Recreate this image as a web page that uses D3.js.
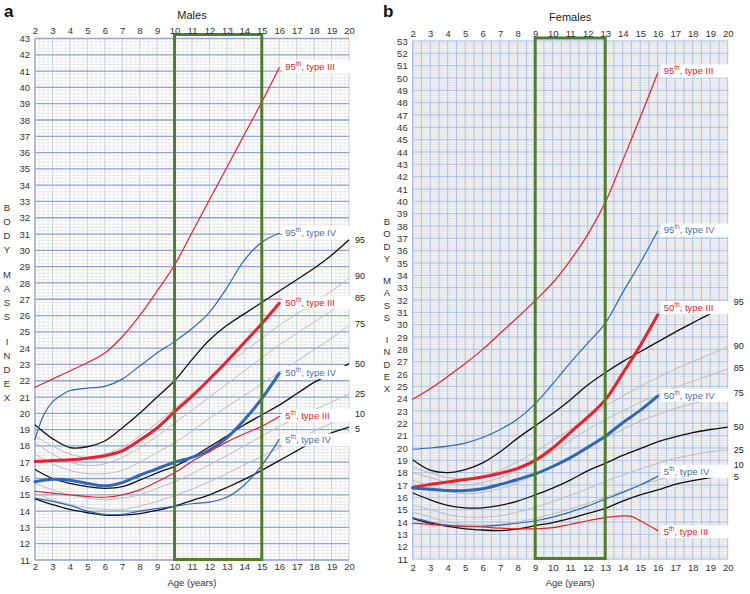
<!DOCTYPE html>
<html><head><meta charset="utf-8">
<script src="https://cdn.jsdelivr.net/npm/d3@7"></script>
<style>
body{margin:0;background:#fff}
svg{display:block}
text{font-family:"Liberation Sans",Arial,Helvetica,sans-serif}
</style>
</head><body>
<svg id="c" width="750" height="594"></svg>
<script>
// ---------- DATA ----------
const ages = [2,3,4,5,6,7,8,9,10,11,12,13,14,15,16,17,18,19,20];
const ages16 = [2,3,4,5,6,7,8,9,10,11,12,13,14,15,16];
const xTicks = [2,3,4,5,6,7,8,9,10,11,12,13,14,15,16,17,18,19,20];
const pctNames = ["95","90","85","75","50","25","10","5"];

// Males – reference percentiles
const m5  = [14.75,14.4,14.1,13.9,13.75,13.75,13.85,14.05,14.3,14.65,15.0,15.45,15.95,16.5,17.1,17.7,18.3,18.8,19.15];
const m10 = [15.1,14.7,14.4,14.2,14.1,14.1,14.3,14.6,14.95,15.35,15.8,16.3,16.85,17.35,17.9,18.4,18.9,19.4,19.85];
const m25 = [15.7,15.3,15.0,14.8,14.7,14.8,15.0,15.4,15.8,16.3,16.85,17.4,18.0,18.6,19.2,19.7,20.2,20.7,21.2];
const m50 = [16.55,16.0,15.7,15.5,15.4,15.5,15.9,16.35,16.75,17.3,17.95,18.6,19.3,19.9,20.5,21.2,21.9,22.45,23.05];
const m75 = [17.5,16.9,16.5,16.3,16.3,16.5,17.0,17.6,18.2,18.9,19.7,20.4,21.1,21.8,22.5,23.2,23.9,24.6,25.4];
const m85 = [18.2,17.5,17.0,16.8,16.9,17.3,17.9,18.6,19.4,20.2,21.0,21.8,22.6,23.4,24.2,24.9,25.6,26.3,27.0];
const m90 = [18.6,18.0,17.5,17.3,17.5,17.9,18.6,19.4,20.3,21.2,22.1,23.0,23.8,24.6,25.4,26.1,26.8,27.5,28.3];
const m95 = [19.3,18.45,17.9,17.95,18.3,19.1,20.0,21.0,22.0,23.3,24.5,25.4,26.1,26.8,27.5,28.2,28.9,29.7,30.65];
// Males – OI type III / IV
const mT3_95 = [21.6,22.1,22.6,23.1,23.7,24.7,26.0,27.5,29.1,31.1,33.1,35.1,37.1,39.1,41.2];
const mT3_50 = [17.05,17.1,17.15,17.25,17.4,17.7,18.35,19.1,20.1,21.05,22.1,23.2,24.35,25.5,26.75];
const mT3_5  = [15.22,15.1,15.0,14.9,14.85,15.0,15.3,15.8,16.35,17.05,17.65,18.25,18.75,19.2,19.8];
const mT4_95ages = [2,2.5,3,3.5,4,5,6,7,8,9,10,11,12,13,14,15,16];
const mT4_95 = [18.4,19.9,20.7,21.1,21.4,21.55,21.65,22.1,22.9,23.7,24.4,25.2,26.2,27.7,29.4,30.5,31.05];
const mT4_50 = [15.8,15.95,15.9,15.7,15.55,15.75,16.2,16.6,17.0,17.3,17.75,18.5,19.6,20.9,22.45];
const mT4_5  = [14.8,14.6,14.35,14.0,13.8,13.8,14.0,14.15,14.3,14.45,14.55,14.85,15.6,16.8,18.4];
const mPctLabelVals = [30.65,28.45,27.1,25.5,23.05,21.2,19.9,19.1];

// Females – reference percentiles
const f5  = [14.3,13.9,13.65,13.45,13.35,13.3,13.45,13.7,13.95,14.3,14.7,15.1,15.7,16.2,16.6,17.05,17.35,17.6,17.8];
const f10 = [14.8,14.4,14.0,13.8,13.75,13.8,14.0,14.3,14.65,15.05,15.5,16.0,16.5,17.0,17.4,17.8,18.1,18.35,18.5];
const f25 = [15.4,15.0,14.6,14.4,14.4,14.5,14.8,15.2,15.65,16.15,16.7,17.3,17.8,18.3,18.75,19.15,19.45,19.7,19.85];
const f50 = [16.35,15.8,15.35,15.15,15.15,15.35,15.7,16.2,16.75,17.4,18.15,18.75,19.4,19.95,20.5,20.9,21.25,21.5,21.7];
const f75 = [17.4,16.9,16.5,16.3,16.4,16.7,17.2,17.8,18.5,19.3,20.1,20.8,21.5,22.2,22.7,23.2,23.6,24.0,24.4];
const f85 = [18.0,17.6,17.2,17.0,17.2,17.6,18.2,18.9,19.7,20.6,21.5,22.3,23.0,23.7,24.3,24.9,25.4,25.9,26.4];
const f90 = [18.4,18.0,17.6,17.5,17.7,18.2,18.9,19.7,20.6,21.5,22.5,23.4,24.2,25.0,25.7,26.4,27.0,27.6,28.2];
const f95 = [19.05,18.2,18.0,18.25,18.8,19.7,20.8,21.8,22.8,23.9,25.1,26.1,27.0,27.8,28.6,29.4,30.15,30.9,31.75];
// Females – OI type III / IV
const fT3_95 = [23.95,24.8,25.8,26.85,28.0,29.3,30.6,31.95,33.4,35.2,37.3,39.9,43.3,46.8,50.4];
const fT3_50 = [16.8,17.05,17.25,17.45,17.65,17.95,18.35,19.0,20.0,21.25,22.5,23.9,26.05,28.3,30.8];
const fT3_5ages = [2,3,4,5,6,7,8,9,10,11,12,13,14,14.5,15,16];
const fT3_5  = [13.9,13.8,13.7,13.65,13.6,13.5,13.45,13.45,13.55,13.8,14.1,14.35,14.5,14.45,14.1,13.3];
const fT4_95 = [19.9,20.0,20.15,20.4,20.85,21.5,22.35,23.6,25.2,26.9,28.5,30.1,32.6,35.0,37.6];
const fT4_50 = [16.75,16.65,16.55,16.55,16.7,17.05,17.45,17.9,18.5,19.2,20.05,20.95,22.05,23.05,24.2];
const fT4_5  = [14.35,14.0,13.75,13.65,13.65,13.75,13.9,14.1,14.4,14.8,15.3,15.85,16.4,17.0,17.7];
const fPctLabelVals = [31.82,28.3,26.5,24.46,21.68,19.84,18.49,17.81];

// ---------- DRAW ----------
const svg = d3.select("#c");
const RED = "#e8212b", BLUE = "#2f69b3", BLUE_T = "#3f6fb5", GREEN = "#4e7d2e", GREY = "#bdbdbd";
const zip = (xs, ys) => xs.map((a,i) => [a, ys[i]]);

function drawPanel(cfg) {
  const g = svg.append("g");
  const x = d3.scaleLinear().domain([2,20]).range(cfg.xr);
  const y = d3.scaleLinear().domain(cfg.yd).range(cfg.yr);
  const L = cfg.xr[0], R = cfg.xr[1], T = cfg.yr[1], B = cfg.yr[0];

  // background & grid
  g.append("rect").attr("x",L).attr("y",T).attr("width",R-L).attr("height",B-T).attr("fill",cfg.bg);
  const grid = g.append("g");
  d3.range(cfg.yd[0], cfg.yd[1]+0.001, 0.2).forEach(v => {
    grid.append("line").attr("x1",L).attr("x2",R).attr("y1",y(v)).attr("y2",y(v))
      .attr("stroke",cfg.minorH).attr("stroke-width",cfg.minorHW);
  });
  if (cfg.minorVStep) d3.range(2, 20.001, cfg.minorVStep).forEach(v => {
    grid.append("line").attr("x1",x(v)).attr("x2",x(v)).attr("y1",T).attr("y2",B)
      .attr("stroke",cfg.minorV).attr("stroke-width",0.6);
  });
  d3.range(2, 20.001, cfg.majorVStep).forEach(v => {
    grid.append("line").attr("x1",x(v)).attr("x2",x(v)).attr("y1",T).attr("y2",B)
      .attr("stroke",cfg.majorV).attr("stroke-width",cfg.majorVW);
  });
  d3.range(cfg.yd[0], cfg.yd[1]+0.001, 1).forEach(v => {
    grid.append("line").attr("x1",L).attr("x2",R).attr("y1",y(v)).attr("y2",y(v))
      .attr("stroke",cfg.majorH).attr("stroke-width",cfg.majorHW);
  });
  g.append("line").attr("x1",L).attr("x2",L).attr("y1",T).attr("y2",B).attr("stroke",cfg.majorH).attr("stroke-width",1.2);

  const line = d3.line().x(d => x(d[0])).y(d => y(d[1])).curve(d3.curveCatmullRom.alpha(0.5));
  const curves = g.append("g").attr("fill","none");
  cfg.grey.forEach(s => curves.append("path").attr("d", line(zip(ages, s))).attr("stroke",GREY).attr("stroke-width",1));
  cfg.black.forEach(s => curves.append("path").attr("d", line(zip(ages, s))).attr("stroke","#111").attr("stroke-width",1.3));
  cfg.oi.forEach(s => curves.append("path").attr("d", line(zip(s.ages, s.vals)))
      .attr("stroke", s.color).attr("stroke-width", s.w).attr("stroke-linecap","round"));

  // green box
  g.append("rect").attr("x",x(cfg.box[0])).attr("y",T-cfg.boxUp).attr("width",x(cfg.box[1])-x(cfg.box[0]))
    .attr("height",B-T+cfg.boxUp-0.5).attr("fill","none").attr("stroke",GREEN).attr("stroke-width",3);

  // curve labels with white boxes
  cfg.oi.forEach(s => {
    const ex = x(s.ages[s.ages.length-1]) + 3;
    const ey = y(s.vals[s.vals.length-1]) - 1 + (s.nudge||0);
    g.append("rect").attr("x",ex).attr("y",ey-6.5).attr("width",R+2-ex).attr("height",13).attr("fill","#fff");
    const t = g.append("text").attr("x",ex+3).attr("y",ey+3.3).attr("fill",s.tcolor).attr("font-size",9.5);
    t.append("tspan").text(s.p);
    t.append("tspan").attr("dy",-4).attr("font-size",6.5).text("th");
    t.append("tspan").attr("dy",4).text(", type " + s.type);
  });

  // percentile labels on right
  pctNames.forEach((n,i) => {
    g.append("text").attr("x",R+cfg.pctDx).attr("y",y(cfg.pctVals[i]) + (cfg.pctNudge[i]||0)).attr("dy","0.35em")
      .attr("font-size",9).attr("fill","#222").text(n);
  });

  // axes
  const axStyle = sel => { sel.select(".domain").remove(); sel.selectAll("text").attr("font-size",9.5).attr("fill","#333")
      .attr("font-family",'"Liberation Sans",Arial,sans-serif'); };
  g.append("g").attr("transform",`translate(0,${T})`)
    .call(d3.axisTop(x).tickValues(xTicks).tickSize(0).tickPadding(cfg.topPad).tickFormat(d3.format("d"))).call(axStyle);
  g.append("g").attr("transform",`translate(0,${B})`)
    .call(d3.axisBottom(x).tickValues(xTicks).tickSize(0).tickPadding(cfg.botPad).tickFormat(d3.format("d"))).call(axStyle);
  g.append("g").attr("transform",`translate(${L},0)`)
    .call(d3.axisLeft(y).tickValues(d3.range(cfg.yd[0], cfg.yd[1]+1)).tickSize(0).tickPadding(cfg.leftPad).tickFormat(d3.format("d"))).call(axStyle);

  // texts
  g.append("text").attr("x",(L+R)/2).attr("y",cfg.titleY).attr("text-anchor","middle").attr("font-size",11).attr("fill","#222").text(cfg.title);
  g.append("text").attr("x",cfg.letterX).attr("y",17).attr("font-size",17).attr("font-weight","bold").attr("fill","#111").text(cfg.letter);
  g.append("text").attr("x",(L+R)/2).attr("y",586).attr("text-anchor","middle").attr("font-size",9.5).attr("fill","#333").text("Age (years)");
  const words = ["BODY","MASS","INDEX"];
  let yy = cfg.bmiY0;
  words.forEach(w => {
    w.split("").forEach(ch => {
      g.append("text").attr("x",cfg.bmiX).attr("y",yy).attr("text-anchor","middle").attr("font-size",9.5).attr("fill","#333").text(ch);
      yy += cfg.bmiStep;
    });
    yy += cfg.bmiStep * 0.8;
  });
}

drawPanel({
  xr:[35,349], yd:[11,43], yr:[560,38.5], bg:"#fff",
  minorH:"#dcdcdc", minorHW:0.6, minorV:"#e2e2e2", minorVStep:0.25, majorV:"#c2cde6", majorVStep:1, majorVW:0.8,
  majorH:"#8ea5d6", majorHW:1.3,
  grey:[m10,m25,m75,m85,m90], black:[m5,m50,m95],
  oi:[
    {ages:ages16, vals:mT3_95, color:RED, w:1.2, tcolor:RED, p:"95", type:"III"},
    {ages:mT4_95ages, vals:mT4_95, color:BLUE, w:1.2, tcolor:BLUE_T, p:"95", type:"IV"},
    {ages:ages16, vals:mT3_50, color:RED, w:3, tcolor:RED, p:"50", type:"III"},
    {ages:ages16, vals:mT4_50, color:BLUE, w:3, tcolor:BLUE_T, p:"50", type:"IV"},
    {ages:ages16, vals:mT3_5, color:RED, w:1.2, tcolor:RED, p:"5", type:"III"},
    {ages:ages16, vals:mT4_5, color:BLUE, w:1.2, tcolor:BLUE_T, p:"5", type:"IV", nudge:1.5}
  ],
  box:[10,15], boxUp:4, pctDx:6, pctVals:mPctLabelVals, pctNudge:[0,0,0,0,0,0,-1,1],
  topPad:4.5, botPad:3, leftPad:5, title:"Males", titleY:19, letter:"a", letterX:4,
  bmiX:7, bmiY0:211, bmiStep:14
});

drawPanel({
  xr:[412.7,727.7], yd:[11,53], yr:[559,41], bg:"#f2f2f2",
  minorH:"#d2d2d2", minorHW:0.5, minorV:null, minorVStep:0, majorV:"#a8c1ea", majorVStep:0.5, majorVW:1,
  majorH:"#a8c1ea", majorHW:1,
  grey:[f10,f25,f75,f85,f90], black:[f5,f50,f95],
  oi:[
    {ages:ages16, vals:fT3_95, color:RED, w:1.2, tcolor:RED, p:"95", type:"III", nudge:-1},
    {ages:ages16, vals:fT4_95, color:BLUE, w:1.2, tcolor:BLUE_T, p:"95", type:"IV"},
    {ages:ages16, vals:fT3_50, color:RED, w:3, tcolor:RED, p:"50", type:"III", nudge:-6},
    {ages:ages16, vals:fT4_50, color:BLUE, w:3, tcolor:BLUE_T, p:"50", type:"IV"},
    {ages:ages16, vals:fT4_5, color:BLUE, w:1.2, tcolor:BLUE_T, p:"5", type:"IV", nudge:-4},
    {ages:fT3_5ages, vals:fT3_5, color:RED, w:1.2, tcolor:RED, p:"5", type:"III", nudge:2}
  ],
  box:[9,13], boxUp:3, pctDx:6, pctVals:fPctLabelVals, pctNudge:[0,0,0,0,0,0,-1.5,1.5],
  topPad:4, botPad:5, leftPad:5, title:"Females", titleY:21, letter:"b", letterX:383,
  bmiX:387, bmiY0:225, bmiStep:12.3
});
</script>
</body></html>
